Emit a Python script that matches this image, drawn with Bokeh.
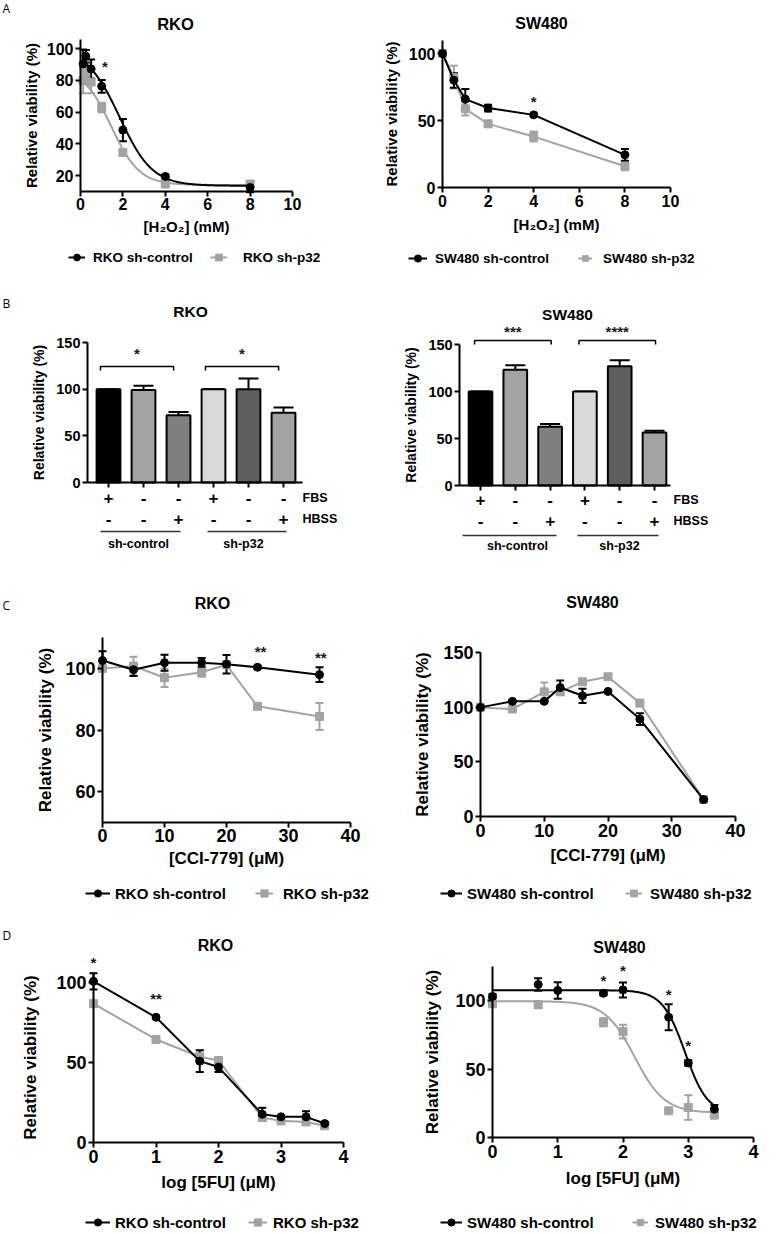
import numpy as np
from bokeh.plotting import figure
from bokeh.models import (Range1d, FixedTicker, Label, Legend, LegendItem, Whisker,
                          TeeHead, ColumnDataSource)
from bokeh.layouts import row, column
from bokeh.embed import file_html
from bokeh.resources import INLINE

# ======================= DATA =======================
# A: H2O2 dose response
h2o2_rko_x = [0.125, 0.25, 0.5, 1, 2, 4, 8]
h2o2_rko_ctrl = [90.5, 95.3, 87.3, 76.3, 48.7, 19.4, 12.4]
h2o2_rko_ctrl_err = [9, 4, 6, 4, 7, 1, 3]
h2o2_rko_p32 = [80, 85, 79, 63, 34.6, 14.6, 14.6]
h2o2_rko_p32_err = [8, 5, 7, 3, 1.5, 1, 2]
# fitted sigmoid (top, bottom, midpoint, steepness)
h2o2_rko_ctrl_fit = [100, 13.5, 1.85, 1.3]
h2o2_rko_p32_fit = [88, 14, 1.45, 1.5]
h2o2_rko_stars = [(1.15, 88.8, "*")]

h2o2_sw_x = [0, 0.5, 1, 2, 4, 8]
h2o2_sw_ctrl = [100, 80, 66, 59.3, 54.2, 24.4]
h2o2_sw_ctrl_err = [1, 5.5, 7.5, 2.5, 1, 4.4]
h2o2_sw_p32 = [100, 82.3, 58.7, 47.5, 38, 15.9]
h2o2_sw_p32_err = [1, 8.5, 5, 2, 3.7, 3]
h2o2_sw_stars = [(4, 64.5, "*")]

# B: starvation (FBS / HBSS)
starv_groups = ["sh-control", "sh-p32"]
starv_fbs = ["+", "-", "-", "+", "-", "-"]
starv_hbss = ["-", "-", "+", "-", "-", "+"]
starv_rko = [100, 99, 72, 100, 100, 74.6]
starv_rko_err = [0, 4.7, 3.6, 0, 11.4, 5.8]
starv_sw = [100, 123.2, 62.5, 100, 126.8, 56.4]
starv_sw_err = [0, 4.7, 2.9, 0, 6.4, 1.8]
starv_rko_sig = ["*", "*"]
starv_sw_sig = ["***", "****"]

# C: CCI-779
cci_rko_x = [0, 5, 10, 16, 20, 25, 35]
cci_rko_ctrl = [102.6, 99.6, 101.9, 101.9, 101.4, 100.4, 98]
cci_rko_ctrl_err = [3, 2, 2.6, 1.5, 3, 0.5, 2.4]
cci_rko_p32 = [100, 100.8, 97, 98.8, 101.2, 87.7, 84.4]
cci_rko_p32_err = [0.5, 3, 3, 1.5, 1, 0.5, 4.4]
cci_rko_stars = [(25.5, 105.5, "**"), (35.2, 103.6, "**")]

cci_sw_x = [0, 5, 10, 12.5, 16, 20, 25, 35]
cci_sw_ctrl = [99.8, 105.3, 105.3, 118, 110.4, 114.4, 89.1, 15.5]
cci_sw_ctrl_err = [1, 1, 1, 6.4, 6.5, 1, 5.3, 1]
cci_sw_p32 = [99.8, 98.3, 114, 114, 123.2, 127.8, 103.7, 15.5]
cci_sw_p32_err = [1, 1, 8.5, 2, 1, 1, 1, 1]

# D: 5FU
fu_rko_x = [0, 1, 1.7, 2, 2.7, 3, 3.4, 3.7]
fu_rko_ctrl = [100.4, 78, 50.7, 47, 17.6, 16, 16, 11.8]
fu_rko_ctrl_err = [5, 0.5, 6.7, 3, 4, 0.5, 3.5, 1]
fu_rko_p32 = [86.5, 64.2, 53.4, 51.1, 15.5, 13.5, 12.8, 10.4]
fu_rko_p32_err = [1, 1, 4, 2, 1, 1, 1, 1]
fu_rko_stars = [(0, 112, "*"), (1, 89.5, "**")]

fu_sw_ctrl_x = [0, 0.7, 1, 1.7, 2, 2.7, 3, 3.4]
fu_sw_ctrl = [103, 111.7, 107.3, 105.3, 107.7, 87.8, 54.4, 20.7]
fu_sw_ctrl_err = [1.5, 4.5, 6, 1.5, 5.5, 9.5, 2, 3]
fu_sw_p32_x = [0, 0.7, 1.7, 2, 2.7, 3, 3.4]
fu_sw_p32 = [97.6, 96.9, 84.1, 77.3, 19.5, 21.9, 16.3]
fu_sw_p32_err = [1.5, 2, 3, 5, 0.5, 9, 1.5]
# fitted 4PL on log scale (top, bottom, logIC50, hill)
fu_sw_ctrl_fit = [107.5, 17, 2.95, 2.5]
fu_sw_p32_fit = [99.5, 18, 2.18, 1.9]
fu_sw_stars = [(1.7, 114.5, "*"), (2.0, 122, "*"), (2.7, 104.5, "*"), (3.0, 67.5, "*")]

# ======================= STYLE =======================
FONT = "Liberation Sans"
BLACK = "#000000"
GRAY = "#a3a3a3"
STAR = "#1a1a1a"
YLABEL = "Relative viability (%)"


class Panel:
    """A figure whose frame fills the whole canvas; axes sit at fixed locations."""

    def __init__(self, ox, oy, w, h, xa, xb, ya, yb):
        self.ox, self.oy, self.w, self.h = ox, oy, w, h
        self.sx = (xb[1] - xa[1]) / (xb[0] - xa[0])
        self.x0 = xa[0] - (xa[1] - ox) / self.sx
        self.sy = (ya[1] - yb[1]) / (yb[0] - ya[0])
        self.y0 = ya[0] - (oy + h - ya[1]) / self.sy
        p = figure(width=w, height=h,
                   x_range=Range1d(self.x0, self.x0 + w / self.sx),
                   y_range=Range1d(self.y0, self.y0 + h / self.sy),
                   output_backend="svg", toolbar_location=None,
                   min_border=0, min_border_left=0, min_border_right=0,
                   min_border_top=0, min_border_bottom=0)
        p.title_location = None
        p.outline_line_color = None
        p.grid.visible = False
        p.background_fill_color = "white"
        p.border_fill_color = "white"
        self.p = p

    def dx(self, px):
        return self.x0 + (px - self.ox) / self.sx

    def dy(self, py):
        return self.y0 + (self.oy + self.h - py) / self.sy

    def text(self, px, py, txt, size, bold=True, align="center", font=FONT, color=BLACK):
        self.text_data(self.dx(px), self.dy(py), txt, size, bold, align, font, color)

    def text_data(self, x, y, txt, size, bold=True, align="center", font=FONT, color=BLACK):
        self.p.add_layout(Label(x=x, y=y, text=txt, text_font=font,
                                text_font_size=f"{size}px",
                                text_font_style="bold" if bold else "normal",
                                text_align=align, text_baseline="middle", text_color=color))

    def axes(self, xloc, xbounds, xticks, yloc, ybounds, yticks, tick_px, label_px,
             xlabel, ylabel, xstand, ystand, xlabels=True):
        p = self.p
        for ax in (p.xaxis[0], p.yaxis[0]):
            ax.axis_line_width = 2
            ax.axis_line_color = BLACK
            ax.major_tick_line_width = 2
            ax.major_tick_line_color = BLACK
            ax.major_tick_out = 5
            ax.major_tick_in = 0
            ax.minor_tick_line_color = None
            ax.major_label_text_font = FONT
            ax.major_label_text_font_size = f"{tick_px}px"
            ax.major_label_text_font_style = "bold"
            ax.major_label_text_color = BLACK
            ax.major_label_standoff = 2
            ax.axis_label_text_font = FONT
            ax.axis_label_text_font_size = f"{label_px}px"
            ax.axis_label_text_font_style = "bold"
            ax.axis_label_text_color = BLACK
        xa, ya = p.xaxis[0], p.yaxis[0]
        xa.fixed_location = xloc
        xa.bounds = xbounds
        xa.ticker = FixedTicker(ticks=xticks)
        ya.fixed_location = yloc
        ya.bounds = ybounds
        ya.ticker = FixedTicker(ticks=yticks)
        if xlabel:
            xa.axis_label = xlabel
            xa.axis_label_standoff = xstand
        ya.axis_label = ylabel
        ya.axis_label_standoff = ystand
        if not xlabels:
            xa.major_label_overrides = {t: "" for t in xticks}

    def series(self, x, y, err, color, marker, curve=None):
        src = ColumnDataSource(dict(x=x, y=y, lo=[a - b for a, b in zip(y, err)],
                                    hi=[a + b for a, b in zip(y, err)]))
        self.p.add_layout(Whisker(source=src, base="x", lower="lo", upper="hi",
                                  line_color=color, line_width=2,
                                  upper_head=TeeHead(size=8, line_color=color, line_width=2),
                                  lower_head=TeeHead(size=8, line_color=color, line_width=2)))
        if curve is not None:
            rl = self.p.line(curve[0], curve[1], line_color=color, line_width=2)
        else:
            rl = self.p.line("x", "y", source=src, line_color=color, line_width=2,
                             line_join="round")
        rm = self.p.scatter("x", "y", source=src, marker=marker, size=8,
                            fill_color=color, line_color=color)
        return [rl, rm]

    def legend(self, label, renderers, gx, gw, tx, yc, size):
        H = 18
        leg = Legend(items=[LegendItem(label=label, renderers=renderers)],
                     location=(gx - self.ox, self.oy + self.h - yc - H / 2),
                     orientation="horizontal", padding=0, margin=0, spacing=0,
                     border_line_color=None, background_fill_alpha=0,
                     glyph_width=gw, glyph_height=H, label_height=H,
                     label_standoff=tx - (gx + gw),
                     label_text_font=FONT, label_text_font_style="bold",
                     label_text_font_size=f"{size}px", label_text_color=BLACK)
        self.p.add_layout(leg)


def logistic(params, x):
    t, b, m, k = params
    return b + (t - b) / (1 + np.exp(k * (x - m)))


def four_pl(params, x):
    t, b, c, h = params
    return b + (t - b) / (1 + 10 ** ((x - c) * h))


# ======================= PANEL A =======================
A1 = Panel(0, 0, 382, 270, (0, 80), (10, 292), (100, 48.3), (20, 175))
A1.axes(10, (0, 10), [0, 2, 4, 6, 8, 10], 0, (10, 106), [20, 40, 60, 80, 100], 16, 15,
        "[H\u2082O\u2082] (mM)", YLABEL, 4, 4)
xs = np.linspace(0, 8, 200)
rg = A1.series(h2o2_rko_x, h2o2_rko_p32, h2o2_rko_p32_err, GRAY, "square",
               (xs, logistic(h2o2_rko_p32_fit, xs)))
rb = A1.series(h2o2_rko_x, h2o2_rko_ctrl, h2o2_rko_ctrl_err, BLACK, "circle",
               (xs, logistic(h2o2_rko_ctrl_fit, xs)))
for sx, sy, st in h2o2_rko_stars:
    A1.text_data(sx, sy, st, 15, color=STAR)
A1.text(175, 23, "RKO", 16.5)
A1.text(2, 8, "A", 12, bold=False, align="left", font="Open Sans")
A1.legend("RKO sh-control", rb, 68, 17, 93, 257, 13.5)
A1.legend("RKO sh-p32", rg, 210, 17, 243, 257, 13.5)

A2 = Panel(382, 0, 399, 270, (0, 442), (10, 670), (100, 53), (0, 187))
A2.axes(0, (0, 10), [0, 2, 4, 6, 8, 10], 0, (0, 110), [0, 50, 100], 16, 15,
        "[H\u2082O\u2082] (mM)", YLABEL, 6, 6)
rg = A2.series(h2o2_sw_x, h2o2_sw_p32, h2o2_sw_p32_err, GRAY, "square")
rb = A2.series(h2o2_sw_x, h2o2_sw_ctrl, h2o2_sw_ctrl_err, BLACK, "circle")
for sx, sy, st in h2o2_sw_stars:
    A2.text_data(sx, sy, st, 15, color=STAR)
A2.text(541, 23, "SW480", 16)
A2.legend("SW480 sh-control", rb, 408, 19, 435, 258, 13.5)
A2.legend("SW480 sh-p32", rg, 578, 14, 603, 258, 13.5)

# ======================= PANEL B =======================
bar_pos = [1, 2, 3, 4, 5, 6]
bar_colors = ["#000000", "#a3a3a3", "#7f7f7f", "#d9d9d9", "#5e5e5e", "#a3a3a3"]


def bar_panel(pn, vals, errs, sig, cfg):
    p = pn.p
    src = ColumnDataSource(dict(x=bar_pos, top=vals, c=bar_colors,
                                hi=[v + e for v, e in zip(vals, errs)]))
    p.add_layout(Whisker(source=src, base="x", lower="top", upper="hi", line_color=BLACK,
                         line_width=2, level="underlay", lower_head=None,
                         upper_head=TeeHead(size=20, line_color=BLACK, line_width=2)))
    p.vbar(x="x", top="top", width=0.68, fill_color="c", line_color=BLACK, line_width=2,
           source=src)
    ytop, ybot = cfg["bracket_y"]
    for k, (i, j) in enumerate([(0, 2), (3, 5)]):
        x1 = bar_pos[i] + cfg["bl"]
        x2 = bar_pos[j] + cfg["br"]
        p.multi_line([[x1, x1, x2, x2]], [[ybot, ytop, ytop, ybot]], line_color=BLACK,
                     line_width=1.5)
        pn.text_data((x1 + x2) / 2, pn.dy(cfg["star_py"]), sig[k], 15, color=STAR)
    for x, f, h in zip(bar_pos, starv_fbs, starv_hbss):
        pn.text_data(x, pn.dy(cfg["fbs_py"]), f, 17)
        pn.text_data(x, pn.dy(cfg["hbss_py"]), h, 17)
    pn.text(cfg["lab_px"], cfg["fbs_py"], "FBS", 12.5, align="left")
    pn.text(cfg["lab_px"], cfg["hbss_py"], "HBSS", 12.5, align="left")
    yl = pn.dy(cfg["ul_py"])
    for (a, b), gx, gname in zip(cfg["underlines"], cfg["group_px"], starv_groups):
        p.segment(x0=[pn.dx(a)], y0=[yl], x1=[pn.dx(b)], y1=[yl], line_width=1.5,
                  line_color="#333333")
        pn.text(gx, cfg["group_py"], gname, 12.5)


B1 = Panel(0, 270, 390, 290, (1, 108), (6, 283), (0, 482), (150, 342))
B1.axes(0, (0.4, 6.54), bar_pos, 0.4, (0, 150), [0, 50, 100, 150], 14.5, 14,
        None, YLABEL, 0, 6, xlabels=False)
bar_panel(B1, starv_rko, starv_rko_err, starv_rko_sig,
          dict(bracket_y=(124.3, 120), bl=-0.23, br=-0.14, star_py=353,
               fbs_py=497, hbss_py=518, lab_px=302, ul_py=531,
               underlines=[(100, 180), (207, 286)], group_px=[138, 243], group_py=543))
B1.text(190, 311, "RKO", 15.5)
B1.text(2, 303, "B", 12, bold=False, align="left", font="Open Sans")

B2 = Panel(390, 270, 391, 290, (1, 480), (6, 654), (0, 485), (150, 344))
B2.axes(0, (0.4, 6.46), bar_pos, 0.4, (0, 150), [0, 50, 100, 150], 14.5, 14,
        None, YLABEL, 0, 6, xlabels=False)
bar_panel(B2, starv_sw, starv_sw_err, starv_sw_sig,
          dict(bracket_y=(154.3, 150), bl=-0.17, br=0.03, star_py=331,
               fbs_py=499, hbss_py=520, lab_px=673, ul_py=535,
               underlines=[(462, 556), (577, 658)], group_px=[517, 619], group_py=545))
B2.text(567, 314, "SW480", 15.5)

# ======================= PANEL C =======================
C1 = Panel(0, 560, 390, 345, (0, 102), (40, 350), (100, 668), (60, 791))
C1.axes(50, (0, 40), [0, 10, 20, 30, 40], 0, (50, 110), [60, 80, 100], 18, 17,
        "[CCI-779] (\u03bcM)", YLABEL, 3, 7)
rg = C1.series(cci_rko_x, cci_rko_p32, cci_rko_p32_err, GRAY, "square")
rb = C1.series(cci_rko_x, cci_rko_ctrl, cci_rko_ctrl_err, BLACK, "circle")
for sx, sy, st in cci_rko_stars:
    C1.text_data(sx, sy, st, 15, color=STAR)
C1.text(212, 603, "RKO", 16)
C1.text(2, 605, "C", 12, bold=False, align="left", font="Open Sans")
C1.legend("RKO sh-control", rb, 85, 25, 115, 893, 15)
C1.legend("RKO sh-p32", rg, 255, 18, 283, 893, 15)

C2 = Panel(390, 560, 391, 345, (0, 480), (40, 735), (0, 816), (150, 652))
C2.axes(0, (0, 40), [0, 10, 20, 30, 40], 0, (0, 150), [0, 50, 100, 150], 18, 17,
        "[CCI-779] (\u03bcM)", YLABEL, 6, 8)
rg = C2.series(cci_sw_x, cci_sw_p32, cci_sw_p32_err, GRAY, "square")
rb = C2.series(cci_sw_x, cci_sw_ctrl, cci_sw_ctrl_err, BLACK, "circle")
C2.text(592, 602, "SW480", 16)
C2.legend("SW480 sh-control", rb, 440, 22, 467, 893, 15)
C2.legend("SW480 sh-p32", rg, 625, 17, 650, 893, 15)

# ======================= PANEL D =======================
D1 = Panel(0, 905, 390, 329, (0, 93), (4, 343), (0, 1142), (100, 981.5))
D1.axes(0, (0, 4), [0, 1, 2, 3, 4], 0, (0, 106), [0, 50, 100], 18, 17,
        "log [5FU] (\u03bcM)", YLABEL, 7, 13)
rg = D1.series(fu_rko_x, fu_rko_p32, fu_rko_p32_err, GRAY, "square")
rb = D1.series(fu_rko_x, fu_rko_ctrl, fu_rko_ctrl_err, BLACK, "circle")
for sx, sy, st in fu_rko_stars:
    D1.text_data(sx, sy, st, 15, color=STAR)
D1.text(215, 945, "RKO", 16)
D1.text(2, 935, "D", 12, bold=False, align="left", font="Open Sans")
D1.legend("RKO sh-control", rb, 85, 25, 115, 1222, 15)
D1.legend("RKO sh-p32", rg, 248, 19, 273, 1222, 15)

D2 = Panel(390, 905, 391, 329, (0, 492), (4, 753), (0, 1137), (100, 1000))
D2.axes(0, (0, 4), [0, 1, 2, 3, 4], 0, (0, 125), [0, 50, 100], 18, 17,
        "log [5FU] (\u03bcM)", YLABEL, 8, 10)
xs2 = np.linspace(0, 3.4, 200)
rg = D2.series(fu_sw_p32_x, fu_sw_p32, fu_sw_p32_err, GRAY, "square",
               (xs2, four_pl(fu_sw_p32_fit, xs2)))
rb = D2.series(fu_sw_ctrl_x, fu_sw_ctrl, fu_sw_ctrl_err, BLACK, "circle",
               (xs2, four_pl(fu_sw_ctrl_fit, xs2)))
for sx, sy, st in fu_sw_stars:
    D2.text_data(sx, sy, st, 15, color=STAR)
D2.text(619, 947, "SW480", 16)
D2.legend("SW480 sh-control", rb, 440, 22, 467, 1222, 15)
D2.legend("SW480 sh-p32", rg, 632, 16, 655, 1222, 15)

layout = column(row(A1.p, A2.p, spacing=0), row(B1.p, B2.p, spacing=0),
                row(C1.p, C2.p, spacing=0), row(D1.p, D2.p, spacing=0), spacing=0)

open("out.html", "w").write(file_html(layout, INLINE))
